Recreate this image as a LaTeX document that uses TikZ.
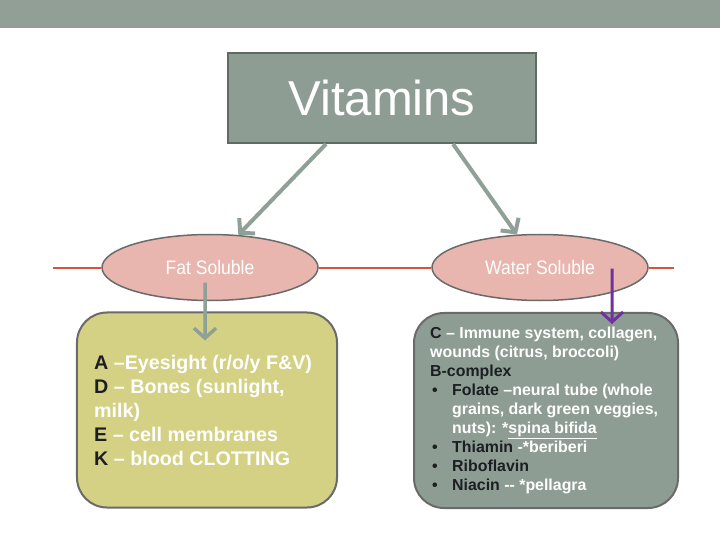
\documentclass[tikz,border=0pt]{standalone}
\usepackage{fontspec}
\setmainfont{Liberation Sans}
\newfontfamily\narrowfont[FakeStretch=0.9]{Liberation Sans}
\usepackage{xcolor}
\usepackage{tikz}
\usetikzlibrary{arrows.meta,shapes.geometric,positioning}
\definecolor{band}{RGB}{145,159,150}
\definecolor{sage}{RGB}{142,157,147}
\definecolor{sageline}{RGB}{94,107,98}
\definecolor{arrowgray}{RGB}{143,161,151}
\definecolor{blush}{RGB}{232,182,174}
\definecolor{mustard}{RGB}{212,208,132}
\definecolor{rimgray}{RGB}{106,106,106}
\definecolor{redrule}{RGB}{214,84,60}
\definecolor{grape}{RGB}{112,48,160}
\definecolor{ink}{RGB}{28,30,36}
\newcommand{\bul}[1]{\hspace*{2bp}\makebox[20bp][l]{\color{ink}\textbullet}{\color{ink}#1}}

\begin{document}
\begin{tikzpicture}[x=1bp, y=-1bp,
    soluble/.style={ellipse, draw=rimgray, line width=1.5bp, fill=blush, minimum width=216bp, minimum height=66bp, inner sep=0pt, text=white, font=\narrowfont\fontsize{19.5bp}{22bp}\selectfont},
    card/.style={rectangle, rounded corners=30bp, draw=rimgray, line width=2bp, minimum height=195bp},
    link/.style={arrowgray, line width=4bp, -{Straight Barb[length=10bp, width=22bp]}},
    rule/.style={redrule, line width=2bp},
  ]
    \useasboundingbox (0,0) rectangle (720,540);
    \fill[white] (0,0) rectangle (720,540);
    \fill[band] (0,0) rectangle (720,28);

    \node(V) at (382,98) [rectangle, draw=sageline, line width=2bp, fill=sage, minimum width=308bp, minimum height=90bp, text=white, font=\fontsize{49bp}{52bp}\selectfont] {Vitamins};
    \node(F) at (210,267.5) [soluble] {Fat Soluble};
    \node(W) at (540,267.5) [soluble] {Water Soluble};
    \node(FB) at (207,410) [card, fill=mustard, minimum width=260bp] {};
    \node(WB) at (546,410.5) [card, fill=sage, minimum width=264bp] {};

    % box texts
    \node(FT) at ([xshift=18bp]FB.west) [anchor=west, align=left, inner sep=0pt, text=white, font=\bfseries\fontsize{19.7bp}{24bp}\selectfont]
      {{\color{ink}A} –Eyesight (r/o/y F\&V)\\
       {\color{ink}D} – Bones (sunlight,\\
       milk)\\
       {\color{ink}E} – cell membranes\\
       {\color{ink}K} – blood CLOTTING};
    \node(WT) at ([xshift=17bp]WB.west) [anchor=west, align=left, inner sep=0pt, text=white, font=\bfseries\fontsize{15.9bp}{19bp}\selectfont]
      {{\color{ink}C} – Immune system, collagen,\\
       wounds (citrus, broccoli)\\
       {\color{ink}B-complex}\\
       \bul{Folate} –neural tube (whole\\
       \hspace*{22bp}grains, dark green veggies,\\
       \hspace*{22bp}nuts): *\underline{spina bifida}\\
       \bul{Thiamin} -*beriberi\\
       \bul{Riboflavin}\\
       \bul{Niacin} -{}- *pellagra};

    % red rule through the ellipses
    \coordinate(L) at (53,267.5);
    \coordinate(R) at (674,267.5);
    \draw[rule] (L) -- (F.west);
    \draw[rule] (F.east) -- (W.west);
    \draw[rule] (W.east) -- (R);

    % arrows
    \draw[link] ([xshift=-56bp]V.south) -- (F.49);
    \draw[link] ([xshift=71bp]V.south) -- (W.125);
    \draw[link, line width=3.5bp] ([xshift=-5bp, yshift=-15bp]F.center) -- ([xshift=-2bp, yshift=-29bp]FB.north);
    \draw[link, grape, line width=3bp] ([xshift=72bp, yshift=-1bp]W.center) -- ([xshift=66bp, yshift=-12bp]WB.north);
  \end{tikzpicture}
\end{document}
